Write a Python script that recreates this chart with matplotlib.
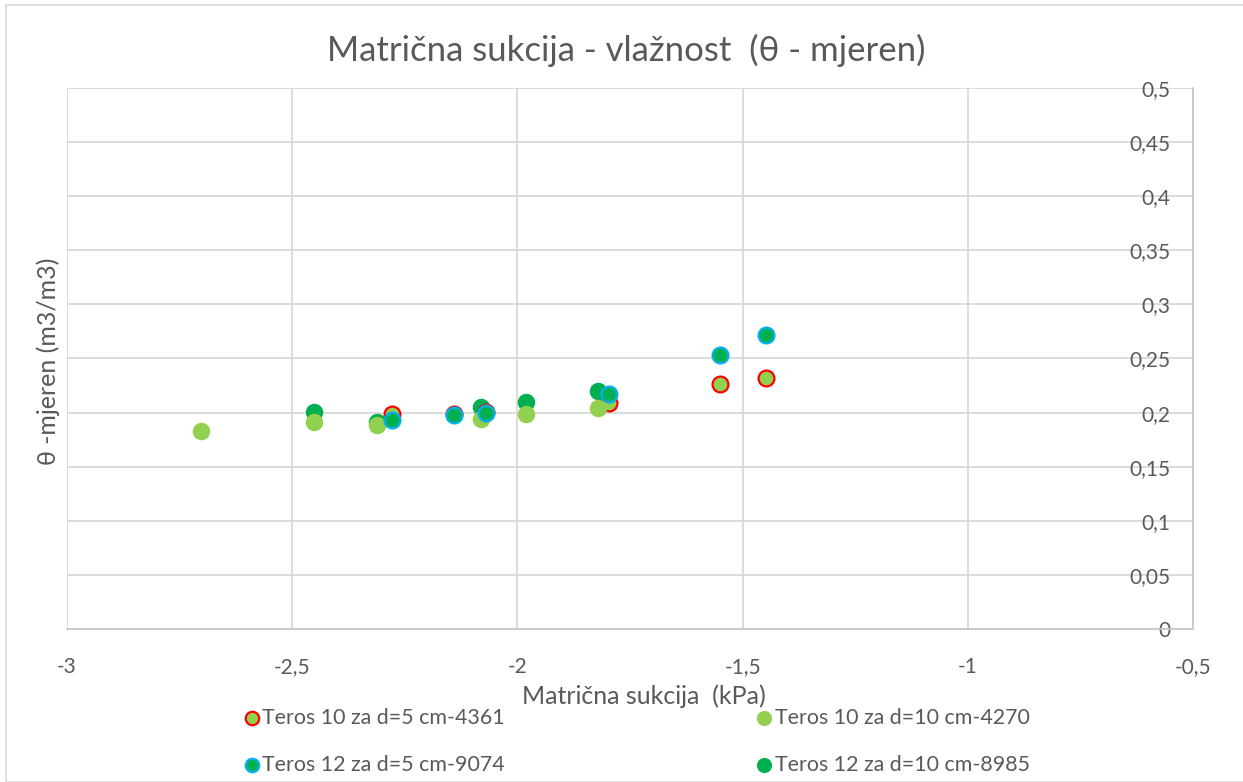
import matplotlib
matplotlib.use("Agg")
import matplotlib.pyplot as plt
from matplotlib.patches import Rectangle
from matplotlib.ticker import FuncFormatter, MultipleLocator

plt.rcParams['font.family'] = ['Lato', 'DejaVu Sans']

title = "Matrična sukcija - vlažnost  (θ - mjeren)"
xlabel = "Matrična sukcija  (kPa)"
ylabel = "θ -mjeren (m3/m3)"

# Teros 10 za d=5 cm-4361
t10_5_x = [-2.278, -2.140, -2.069, -1.796, -1.551, -1.449]
t10_5_y = [0.199, 0.199, 0.201, 0.209, 0.226, 0.232]
# Teros 10 za d=10 cm-4270
t10_10_x = [-2.702, -2.451, -2.311, -2.080, -1.980, -1.820]
t10_10_y = [0.183, 0.191, 0.189, 0.194, 0.199, 0.204]
# Teros 12 za d=5 cm-9074
t12_5_x = [-2.278, -2.140, -2.069, -1.796, -1.551, -1.449]
t12_5_y = [0.193, 0.198, 0.200, 0.217, 0.253, 0.272]
# Teros 12 za d=10 cm-8985
t12_10_x = [-2.451, -2.311, -2.080, -1.980, -1.820]
t12_10_y = [0.201, 0.191, 0.205, 0.210, 0.220]

labels = ["Teros 10 za d=5 cm-4361", "Teros 10 za d=10 cm-4270",
          "Teros 12 za d=5 cm-9074", "Teros 12 za d=10 cm-8985"]

TXT = "#595959"
GRID = "#d9d9d9"
LG = "#92D050"
DG = "#00B050"
BLUE = "#00B0F0"
RED = "#FF0000"

W, H = 1243, 782
fig = plt.figure(figsize=(W / 100, H / 100), dpi=100)
fig.patches.append(Rectangle((6 / W, 0), 1.2, 1 - 5 / H, transform=fig.transFigure,
                             fill=False, edgecolor=GRID, linewidth=1.2))

ax = fig.add_axes([67 / W, 1 - 629 / H, (1193 - 67) / W, (629 - 88) / H])
ax.set_xlim(-3, -0.5)
ax.set_ylim(0, 0.5)
ax.xaxis.set_major_locator(MultipleLocator(0.5))
ax.yaxis.set_major_locator(MultipleLocator(0.05))
ax.grid(True, color=GRID, linewidth=1.3, zorder=0)
ax.set_axisbelow(True)
for s in ['top', 'left']:
    ax.spines[s].set_visible(False)
for s in ['bottom', 'right']:
    ax.spines[s].set_color("#c8c8c8")
    ax.spines[s].set_linewidth(1.3)

fmt = FuncFormatter(lambda v, p: ("%g" % round(v, 2)).replace('.', ','))
ax.xaxis.set_major_formatter(fmt)
ax.yaxis.set_major_formatter(fmt)
ax.yaxis.tick_right()
ax.tick_params(axis='y', length=0, pad=-16, labelsize=15, colors=TXT)
for lab in ax.get_yticklabels():
    lab.set_horizontalalignment('right')
ax.tick_params(axis='x', length=0, pad=20, labelsize=15, colors=TXT)

ms = 130
h2 = ax.scatter(t12_10_x, t12_10_y, s=ms, c=DG, edgecolors=DG, linewidths=1.2, zorder=3)
h0 = ax.scatter(t10_5_x, t10_5_y, s=ms, c=LG, edgecolors=RED, linewidths=1.6, zorder=4)
h1 = ax.scatter(t10_10_x, t10_10_y, s=ms, c=LG, edgecolors=LG, linewidths=1.2, zorder=5)
h3 = ax.scatter(t12_5_x, t12_5_y, s=ms, c=DG, edgecolors=BLUE, linewidths=1.6, zorder=6)

fig.text(626 / W, 1 - 50 / H, title, ha='center', va='center', fontsize=25, color=TXT)
fig.text(644 / W, 1 - 696 / H, xlabel, ha='center', va='center', fontsize=18, color=TXT)
fig.text(48 / W, 1 - 361 / H, ylabel, ha='center', va='center', rotation=90, fontsize=18, color=TXT)

leg = fig.legend([h0, h3, h1, h2], [labels[0], labels[2], labels[1], labels[3]],
                 ncol=2, loc='upper left', bbox_to_anchor=(241 / W, 1 - 708 / H),
                 frameon=False, fontsize=15.4, labelcolor=TXT, handletextpad=0.0,
                 columnspacing=11.6, labelspacing=1.25, markerscale=0.85,
                 handlelength=1.0, borderaxespad=0, borderpad=0)

fig.savefig("out.png", dpi=100, facecolor='white')
